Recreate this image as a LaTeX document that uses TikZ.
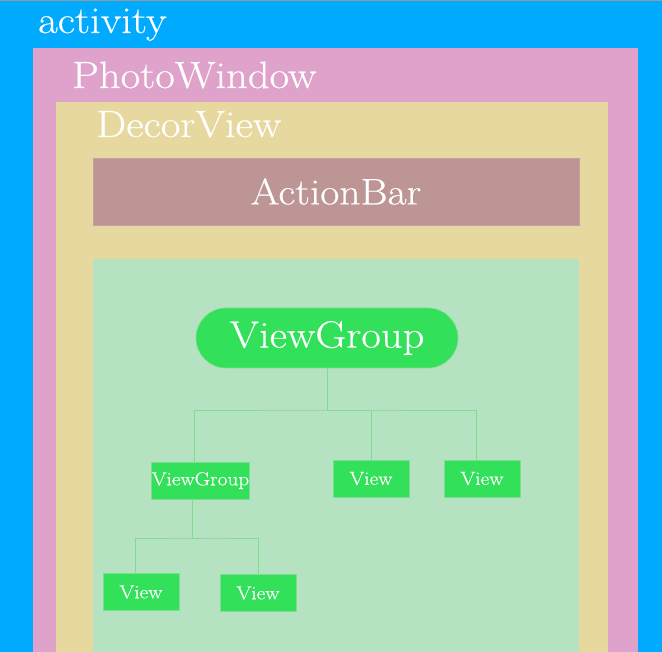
\documentclass[tikz,border=0pt]{standalone}
\usepackage{fontspec}
\setmainfont{Latin Modern Roman}[FakeStretch=1.12,FakeBold=0.4]
\usetikzlibrary{positioning}
\definecolor{actblue}{RGB}{0,170,255}
\definecolor{winpink}{RGB}{223,163,203}
\definecolor{decoryellow}{RGB}{231,216,159}
\definecolor{barbrown}{RGB}{190,149,149}
\definecolor{contentgreen}{RGB}{181,226,192}
\definecolor{viewgreen}{RGB}{50,224,90}
\definecolor{linkgreen}{RGB}{125,222,145}
\tikzset{
  layertitle/.style={anchor=base west,inner sep=0pt,text=white,font=\fontsize{38}{40}\selectfont},
  viewbox/.style={fill=viewgreen,draw=linkgreen,line width=0.6pt,text=white,
    minimum width=76,minimum height=37,inner sep=0pt,font=\fontsize{19}{20}\selectfont},
  link/.style={draw=linkgreen,line width=0.9pt}
}
\begin{document}
\begin{tikzpicture}[x=1pt,y=1pt,yscale=-1,xscale=1]
        \useasboundingbox (0,0) rectangle (662,652);
        %Shape: Rectangle activity
        \fill [actblue] (0,0) rectangle (662,652);
        \draw [color=gray!80,line width=1pt] (0,0.5) -- (662,0.5);
        %Shape: Rectangle PhotoWindow
        \fill [winpink] (33,48) rectangle (638,652);
        %Shape: Rectangle DecorView
        \fill [decoryellow] (56,102) rectangle (608,652);
        %Shape: Rectangle content
        \fill [contentgreen] (93,259) rectangle (579,652);

        % Text Node
        \draw (38,33) node [layertitle] {activity};
        % Text Node
        \draw (72,88) node [layertitle] {PhotoWindow};
        % Text Node
        \draw (96,137) node [layertitle] {DecorView};

        % ActionBar
        \node (bar) [fill=barbrown,draw=barbrown!90!white,minimum width=486,minimum height=67,inner sep=0pt,
          text=white,font=\fontsize{37}{40}\selectfont] at (336,191.5) {ActionBar};

        % view tree
        \node (root) [viewbox,minimum width=262,minimum height=60,rounded corners=30,
          font=\fontsize{38}{40}\selectfont] at (327,338) {ViewGroup};
        \node (sub) [viewbox,minimum width=97] at (200.5,480.5) {ViewGroup};
        \node (v1) [viewbox] at (371,478.5) {View};
        \node (v2) [viewbox] at (482,478.5) {View};
        \node (leaf1) [viewbox] at (141,592) {View};
        \node (leaf2) [viewbox] at (258,593) {View};

        \coordinate (j1) at (327,410);
        \coordinate (j2) at (200.5,538);
        \draw [link] (root.south) -- (j1);
        \draw [link] ([xshift=-6]sub.north) |- (j1) -| ([xshift=-6]v2.north);
        \draw [link] (j1) -| (v1.north);
        \draw [link] ([xshift=-8]sub.south) |- (j2);
        \draw [link] ([xshift=-6]leaf1.north) |- (j2) -| (leaf2.north);
\end{tikzpicture}
\end{document}
